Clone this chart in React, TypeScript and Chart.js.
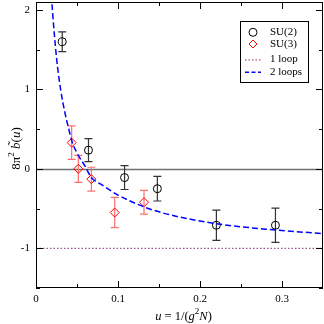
import React, { useEffect, useRef } from "react";
import { Chart, registerables } from "chart.js";

Chart.register(...registerables);

// ---- data ----
const su2U = [0.032, 0.064, 0.108, 0.148, 0.22, 0.292];
const su2B = [1.6, 0.235, -0.11, -0.25, -0.71, -0.71];
const su2Err = [0.125, 0.145, 0.15, 0.155, 0.19, 0.215];

const su3U = [0.0435, 0.0516, 0.0675, 0.096, 0.1317];
const su3B = [0.33, 0.0, -0.13, -0.55, -0.42];
const su3Err = [0.21, 0.17, 0.15, 0.19, 0.15];

const oneLoopU = [0, 0.35];
const oneLoopB = [-1, -1];

const twoLoopU = [0.018, 0.02, 0.025, 0.03, 0.035, 0.04, 0.044, 0.05, 0.06, 0.0675, 0.08, 0.1, 0.132, 0.16, 0.22, 0.28, 0.35];
const twoLoopB = [2.3, 2.0, 1.4, 1.0, 0.72, 0.5, 0.34, 0.2, 0.03, -0.11, -0.2, -0.33, -0.48, -0.57, -0.69, -0.76, -0.815];

const xTicks = [0, 0.1, 0.2, 0.3];
const xTickLabels = ["0", "0.1", "0.2", "0.3"];
const xMinorTicks = [0.05, 0.15, 0.25];
const yTicks = [-1, 0, 1, 2];
const yTickLabels = ["-1", "0", "1", "2"];
const yMinorTicks = [-1.5, -0.5, 0.5, 1.5];

const legendLabels = ["SU(2)", "SU(3)", "1 loop", "2 loops"];

const SERIF = "'Liberation Serif', 'DejaVu Serif', serif";
const BLUE = "#0000ff";
const RED = "#ff0000";
const PURPLE = "#a0508c";

type Seg = { t: string; font: string; dy?: number; over?: string };

function segWidth(ctx: CanvasRenderingContext2D, segs: Seg[]) {
  let w = 0;
  for (const s of segs) {
    ctx.font = s.font;
    w += ctx.measureText(s.t).width;
  }
  return w;
}

function drawSegs(ctx: CanvasRenderingContext2D, segs: Seg[], cx: number, baseline: number) {
  const total = segWidth(ctx, segs);
  let x = cx - total / 2;
  ctx.textAlign = "left";
  ctx.textBaseline = "alphabetic";
  for (const s of segs) {
    ctx.font = s.font;
    const w = ctx.measureText(s.t).width;
    ctx.fillText(s.t, x, baseline + (s.dy || 0));
    if (s.over) {
      const ow = ctx.measureText(s.over).width;
      ctx.fillText(s.over, x + (w - ow) / 2 + 1.5, baseline - 3);
    }
    x += w;
  }
}

const customPlugin = {
  id: "custom",
  beforeDatasetsDraw(chart: any) {
    const { ctx, chartArea: a, scales } = chart;
    const xs = scales.x;
    const ys = scales.y;
    ctx.save();
    // zero line
    const y0 = Math.round(ys.getPixelForValue(0)) + 0.5;
    ctx.strokeStyle = "#707070";
    ctx.lineWidth = 1.4;
    ctx.beginPath();
    ctx.moveTo(a.left, y0);
    ctx.lineTo(a.right, y0);
    ctx.stroke();

    // error bars
    const drawErr = (us: number[], bs: number[], es: number[], color: string) => {
      ctx.strokeStyle = color;
      ctx.lineWidth = 1.2;
      for (let i = 0; i < us.length; i++) {
        const px = xs.getPixelForValue(us[i]);
        const top = ys.getPixelForValue(bs[i] + es[i]);
        const bot = ys.getPixelForValue(bs[i] - es[i]);
        ctx.beginPath();
        ctx.moveTo(px, top);
        ctx.lineTo(px, bot);
        ctx.moveTo(px - 4, top);
        ctx.lineTo(px + 4, top);
        ctx.moveTo(px - 4, bot);
        ctx.lineTo(px + 4, bot);
        ctx.stroke();
      }
    };
    drawErr(su2U, su2B, su2Err, "#333333");
    drawErr(su3U, su3B, su3Err, "#ff6f6f");
    ctx.restore();
  },
  afterDraw(chart: any) {
    const { ctx, chartArea: a, scales } = chart;
    const xs = scales.x;
    const ys = scales.y;
    ctx.save();
    // frame
    ctx.strokeStyle = "#000";
    ctx.lineWidth = 1;
    ctx.strokeRect(a.left + 0.5, a.top + 0.5, a.right - a.left - 1, a.bottom - a.top - 1);

    // inward ticks on all four sides
    ctx.beginPath();
    const xT = (vals: number[], len: number) => {
      for (const v of vals) {
        const px = Math.round(xs.getPixelForValue(v)) + 0.5;
        ctx.moveTo(px, a.bottom);
        ctx.lineTo(px, a.bottom - len);
        ctx.moveTo(px, a.top);
        ctx.lineTo(px, a.top + len);
      }
    };
    const yT = (vals: number[], len: number) => {
      for (const v of vals) {
        const py = Math.round(ys.getPixelForValue(v)) + 0.5;
        ctx.moveTo(a.left, py);
        ctx.lineTo(a.left + len, py);
        ctx.moveTo(a.right, py);
        ctx.lineTo(a.right - len, py);
      }
    };
    xT(xTicks, 7);
    xT(xMinorTicks, 4);
    yT(yTicks, 7);
    yT(yMinorTicks, 4);
    ctx.stroke();

    // legend
    ctx.fillStyle = "#fff";
    ctx.fillRect(240, 21, 68, 61);
    ctx.strokeStyle = "#000";
    ctx.lineWidth = 1;
    ctx.strokeRect(240.5, 21.5, 68, 61);
    const rows = [32.3, 44, 59.3, 71.7];
    const sx = 253;
    // circle
    ctx.beginPath();
    ctx.arc(sx, rows[0], 4, 0, Math.PI * 2);
    ctx.strokeStyle = "#000";
    ctx.stroke();
    // diamond
    ctx.beginPath();
    ctx.moveTo(sx - 4, rows[1]);
    ctx.lineTo(sx, rows[1] - 4);
    ctx.lineTo(sx + 4, rows[1]);
    ctx.lineTo(sx, rows[1] + 4);
    ctx.closePath();
    ctx.strokeStyle = RED;
    ctx.stroke();
    // dotted
    ctx.beginPath();
    ctx.setLineDash([1.5, 2]);
    ctx.strokeStyle = PURPLE;
    ctx.lineWidth = 1.2;
    ctx.moveTo(245, rows[2] + 0.5);
    ctx.lineTo(261, rows[2] + 0.5);
    ctx.stroke();
    // dashed
    ctx.beginPath();
    ctx.setLineDash([4, 2.5]);
    ctx.strokeStyle = BLUE;
    ctx.lineWidth = 1.5;
    ctx.moveTo(245, rows[3] + 0.5);
    ctx.lineTo(261, rows[3] + 0.5);
    ctx.stroke();
    ctx.setLineDash([]);
    ctx.fillStyle = "#000";
    ctx.font = `11px ${SERIF}`;
    ctx.textAlign = "left";
    ctx.textBaseline = "middle";
    legendLabels.forEach((t, i) => ctx.fillText(t, 270, rows[i]));

    // x axis title: u = 1/(g²N)
    const fN = `12.5px ${SERIF}`;
    const fI = `italic 12.5px ${SERIF}`;
    const fS = `9px ${SERIF}`;
    drawSegs(
      ctx,
      [
        { t: "u", font: fI },
        { t: " = 1/(", font: fN },
        { t: "g", font: fI },
        { t: "2", font: fS, dy: -6 },
        { t: "N", font: fI },
        { t: ")", font: fN },
      ],
      (a.left + a.right) / 2 + 4,
      320
    );

    // y axis title: 8π² b̃(u)
    ctx.save();
    ctx.translate(20, 148.5);
    ctx.rotate(-Math.PI / 2);
    const gN = `13px ${SERIF}`;
    const gI = `italic 13px ${SERIF}`;
    const gS = `9px ${SERIF}`;
    drawSegs(
      ctx,
      [
        { t: "8π", font: gN },
        { t: "2", font: gS, dy: -6 },
        { t: " ", font: gN },
        { t: "b", font: gI, over: "˜" },
        { t: "(", font: gN },
        { t: "u", font: gI },
        { t: ")", font: gN },
      ],
      0,
      0
    );
    ctx.restore();
    ctx.restore();
  },
};

const zeroPad = (s: any) => {
  s.paddingTop = 0;
  s.paddingBottom = 0;
  s.paddingLeft = 0;
  s.paddingRight = 0;
};

export default function App() {
  const ref = useRef<HTMLCanvasElement>(null);
  useEffect(() => {
    const canvas = ref.current;
    if (!canvas) return;
    const chart = new Chart(canvas, {
      type: "scatter",
      data: {
        datasets: [
          {
            label: "1 loop",
            data: oneLoopU.map((u, i) => ({ x: u, y: oneLoopB[i] })),
            showLine: true,
            borderColor: PURPLE,
            borderWidth: 1.2,
            borderDash: [1.5, 2],
            pointRadius: 0,
            clip: 0,
          },
          {
            label: "2 loops",
            data: twoLoopU.map((u, i) => ({ x: u, y: twoLoopB[i] })),
            showLine: true,
            borderColor: BLUE,
            borderWidth: 1.5,
            borderDash: [6, 3],
            pointRadius: 0,
            cubicInterpolationMode: "monotone",
            clip: 0,
          },
          {
            label: "SU(2)",
            data: su2U.map((u, i) => ({ x: u, y: su2B[i] })),
            pointStyle: "circle",
            pointRadius: 4,
            borderColor: "#000",
            backgroundColor: "rgba(0,0,0,0)",
            borderWidth: 1,
          },
          {
            label: "SU(3)",
            data: su3U.map((u, i) => ({ x: u, y: su3B[i] })),
            pointStyle: "rectRot",
            pointRadius: 4.5,
            borderColor: RED,
            backgroundColor: "rgba(0,0,0,0)",
            borderWidth: 1,
          },
        ],
      } as any,
      options: {
        animation: false,
        responsive: false,
        devicePixelRatio: 1,
        layout: { autoPadding: false, padding: { top: 2, right: 1, left: 0, bottom: 0 } },
        plugins: { legend: { display: false }, tooltip: { enabled: false } },
        scales: {
          x: {
            type: "linear",
            min: 0,
            max: 0.35,
            grid: { display: false, drawTicks: false },
            border: { display: false },
            ticks: {
              font: { family: SERIF, size: 11 },
              color: "#000",
              padding: 5,
              maxRotation: 0,
              callback: (_v: any, i: number) => xTickLabels[i],
            },
            afterBuildTicks: (s: any) => {
              s.ticks = xTicks.map((v) => ({ value: v }));
            },
            afterFit: (s: any) => {
              s.height = 36;
              zeroPad(s);
            },
          },
          y: {
            type: "linear",
            min: -1.5,
            max: 2.1,
            grid: { display: false, drawTicks: false },
            border: { display: false },
            ticks: {
              font: { family: SERIF, size: 11 },
              color: "#000",
              padding: 6,
              callback: (_v: any, i: number) => yTickLabels[i],
            },
            afterBuildTicks: (s: any) => {
              s.ticks = yTicks.map((v) => ({ value: v }));
            },
            afterFit: (s: any) => {
              s.width = 36;
              zeroPad(s);
            },
          },
        },
      } as any,
      plugins: [customPlugin],
    });
    return () => chart.destroy();
  }, []);
  return (
    <div style={{ position: "fixed", left: 0, top: 0, width: 324, height: 324, background: "#fff" }}>
      <canvas ref={ref} width={324} height={324} style={{ display: "block", width: 324, height: 324 }} />
    </div>
  );
}
